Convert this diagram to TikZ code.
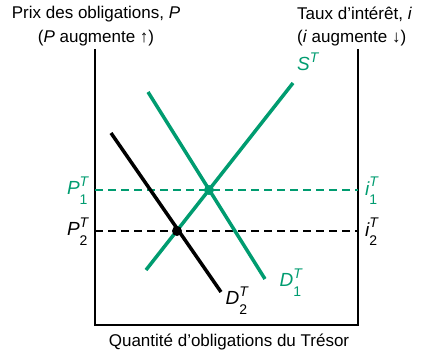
\documentclass[tikz,border=0pt]{standalone}
\usepackage{amsmath}
\usepackage{fontspec}
\setmainfont{Liberation Sans}
\definecolor{vertT}{RGB}{0,156,112}
\newcommand{\petit}{\fontsize{14}{14}\selectfont}
\newcommand{\etiq}[3]{$\text{\itshape #1}^{\text{\petit\itshape #2}\rule[-2pt]{0pt}{2pt}}_{\text{\petit #3}\rule{0pt}{13pt}}$}
\begin{document}
\begin{tikzpicture}[x=1pt,y=-1pt,font=\fontsize{17}{20}\selectfont,
  axe/.style={line width=1.6pt},
  courbe/.style={line width=3.5pt},
  pointille/.style={dash pattern=on 8pt off 5pt,line width=1.3pt},
  txt/.style={inner sep=0pt},
  lab/.style={inner sep=0pt,font=\fontsize{19}{22}\selectfont}]
\useasboundingbox (0,0) rectangle (421,353);
% axes
\coordinate (hautG) at (95,49);
\coordinate (basG) at (95,325);
\coordinate (basD) at (358,325);
\coordinate (hautD) at (358,49);
\draw[axe] (hautG) -- (basG) -- (basD) -- (hautD);
% niveaux de prix / taux
\coordinate (P1g) at (95,190);
\coordinate (P1d) at (358,190);
\coordinate (P2g) at (95,231);
\coordinate (P2d) at (358,231);
\draw[pointille,vertT] (P1g) -- (P1d);
\draw[pointille] (P2g) -- (P2d);
% offre et demandes
\coordinate (D1a) at (148,92);
\coordinate (D1b) at (265,279);
\coordinate (D2a) at (111,133);
\coordinate (D2b) at (221,292);
\coordinate (Sa) at (146,270);
\coordinate (Sb) at (293,83);
\draw[courbe,vertT] (D1a) -- (D1b);
\draw[courbe] (D2a) -- (D2b);
\draw[courbe,vertT] (Sa) -- (Sb);
\fill[vertT] (209,190) circle (5pt);
\fill (177,231) circle (5pt);
% etiquettes
\node[lab,anchor=east,text=vertT] (lP1) at (89,191) {\etiq{P}{T}{1}};
\node[lab,anchor=east] (lP2) at (89,232) {\etiq{P}{T}{2}};
\node[lab,anchor=west,text=vertT] (li1) at (365,191) {\etiq{i}{T}{1}};
\node[lab,anchor=west] (li2) at (365,232) {\etiq{i}{T}{2}};
\node[lab,text=vertT] (lS) at (308,62) {$\text{\itshape S}^{\text{\petit\itshape T}}$};
\node[lab,text=vertT] (lD1) at (291,283) {\etiq{D}{T}{1}};
\node[lab] (lD2) at (237,301) {\etiq{D}{T}{2}};
% titres
\node[txt] (titreP) at (96,14) {Prix des obligations, \textit{P}};
\node[txt] (sensP) at (96,38) {(\textit{P} augmente \textbf{↑})};
\node[txt,anchor=west] (titrei) at (297,14) {Taux d'intérêt, \textit{i}};
\node[txt,anchor=west] (sensi) at (297,38) {(\textit{i} augmente \textbf{↓})};
\node[txt] (titreQ) at (229,342) {Quantité d'obligations du Trésor};
\end{tikzpicture}
\end{document}
